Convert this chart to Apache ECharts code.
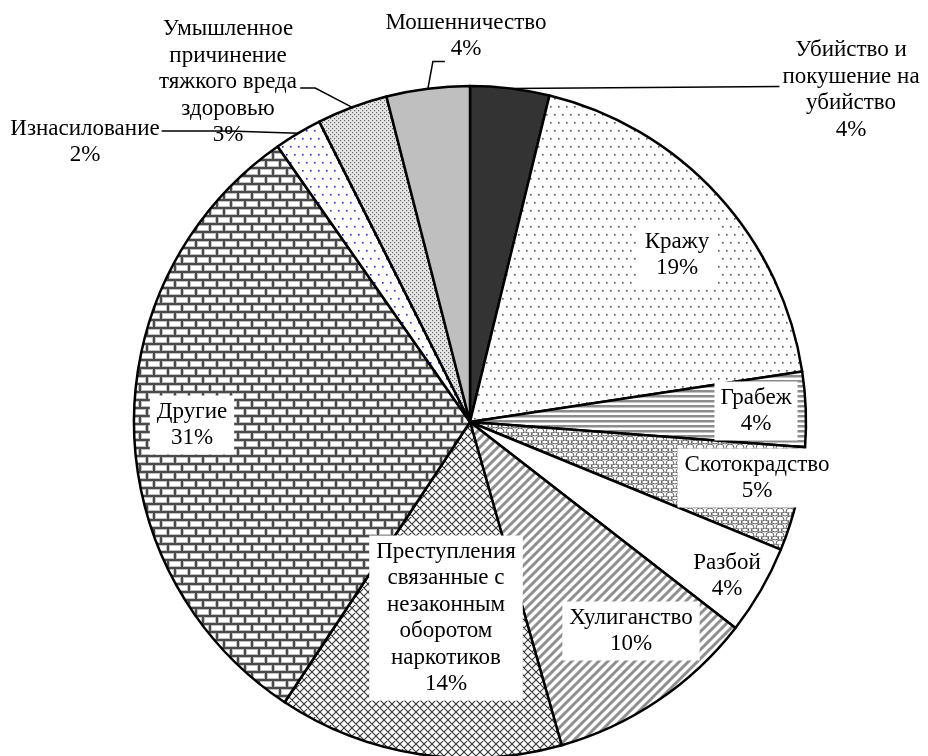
<!DOCTYPE html>
<html>
<head>
<meta charset="utf-8">
<script src="https://cdn.jsdelivr.net/npm/echarts@6/dist/echarts.min.js"></script>
<style>
html,body{margin:0;padding:0;background:#fff;}
#chart{width:928px;height:756px;}
</style>
</head>
<body>
<div id="chart"></div>
<script>
// ---- data ----
const categories = [
  'Убийство и\nпокушение на\nубийство',
  'Кражу',
  'Грабеж',
  'Скотокрадство',
  'Разбой',
  'Хулиганство',
  'Преступления\nсвязанные с\nнезаконным\nоборотом\nнаркотиков',
  'Другие',
  'Изнасилование',
  'Умышленное\nпричинение\nтяжкого вреда\nздоровью',
  'Мошенничество'
];
const values = [3.8, 18.8, 3.6, 5.0, 4.3, 10.1, 13.7, 31.0, 2.3, 3.4, 4.0];

// ---- styling / layout (not data) ----
const labelCenters = [
  [851, 90], [677, 255], [756, 411], [757, 478], [727, 576], [631, 631],
  [446, 618], [192, 425], [85, 142], [228, 82], [466, 36]
];
const labelPadding = [0, [3, 7], [3, 6], [3, 7], 0, [3, 7], [3, 7], [3, 7], 0, 0, 0];
const labelBoxed = [false, true, true, true, false, true, true, true, false, false, false];
const outsideIdx = [0, 8, 9, 10];

function tile(w, h, draw) {
  const c = document.createElement('canvas');
  c.width = w; c.height = h;
  const g = c.getContext('2d');
  draw(g, w, h);
  return c;
}
function dotTile(color, bg) {
  return tile(8, 16, g => {
    g.fillStyle = bg; g.fillRect(0, 0, 8, 16);
    g.fillStyle = color;
    g.fillRect(2, 2, 1.6, 1.6);
    g.fillRect(6, 10, 1.6, 1.6);
  });
}
const patDots = dotTile('#555', '#fff');
const patBlue = dotTile('#2a2ad0', '#fff');
const patDense = tile(4, 4, g => {
  g.fillStyle = '#e6e6e6'; g.fillRect(0, 0, 4, 4);
  g.fillStyle = '#6a6a6a';
  g.fillRect(0, 0, 1.2, 1.2); g.fillRect(2, 2, 1.2, 1.2);
});
const patHoriz = tile(4, 5, g => {
  g.fillStyle = '#fff'; g.fillRect(0, 0, 4, 5);
  g.fillStyle = '#8c8c8c'; g.fillRect(0, 0, 4, 2);
  g.fillStyle = '#c4c4c4'; g.fillRect(0, 2, 4, 1);
});
const patDiag = tile(9, 9, g => {
  g.fillStyle = '#fff'; g.fillRect(0, 0, 9, 9);
  g.strokeStyle = '#8f8f8f'; g.lineWidth = 3;
  g.beginPath();
  g.moveTo(-2, 2); g.lineTo(2, -2);
  g.moveTo(-1, 10); g.lineTo(10, -1);
  g.moveTo(7, 11); g.lineTo(11, 7);
  g.stroke();
});
const patCross = tile(8, 8, g => {
  g.fillStyle = '#fff'; g.fillRect(0, 0, 8, 8);
  g.strokeStyle = '#333'; g.lineWidth = 1.1;
  g.beginPath();
  g.moveTo(0, 0); g.lineTo(8, 8);
  g.moveTo(-1, 1); g.lineTo(1, -1);
  g.moveTo(0, 8); g.lineTo(8, 0);
  g.moveTo(7, 9); g.lineTo(9, 7);
  g.moveTo(-1, 7); g.lineTo(1, 9);
  g.moveTo(7, -1); g.lineTo(9, 1);
  g.stroke();
});
const patBrick = tile(14, 16, g => {
  g.fillStyle = '#4a4a4a'; g.fillRect(0, 0, 14, 16);
  function brick(x, y) {
    g.fillStyle = '#c0c0c0'; g.fillRect(x + 1, y + 1, 12, 6);
    g.fillStyle = '#fff'; g.fillRect(x + 2, y + 2, 10, 4);
  }
  brick(0, 0);
  brick(-7, 8); brick(7, 8);
});
const patWave = tile(10, 8, g => {
  g.fillStyle = '#fff'; g.fillRect(0, 0, 10, 8);
  g.strokeStyle = '#666'; g.lineWidth = 1;
  g.beginPath();
  g.arc(5, 4, 4, Math.PI, 2 * Math.PI);
  g.moveTo(-4, 8); g.arc(0, 8, 4, Math.PI, 2 * Math.PI);
  g.moveTo(6, 8); g.arc(10, 8, 4, Math.PI, 2 * Math.PI);
  g.moveTo(1, 0); g.arc(5, 0, 4, Math.PI, 2*Math.PI, true);
  g.stroke();
});

const fills = [
  '#333333',
  { image: patDots, repeat: 'repeat' },
  { image: patHoriz, repeat: 'repeat' },
  { image: patWave, repeat: 'repeat' },
  '#ffffff',
  { image: patDiag, repeat: 'repeat' },
  { image: patCross, repeat: 'repeat' },
  { image: patBrick, repeat: 'repeat' },
  { image: patBlue, repeat: 'repeat' },
  { image: patDense, repeat: 'repeat' },
  '#bfbfbf'
];

const pieData = categories.map((name, i) => {
  const outside = outsideIdx.indexOf(i) >= 0;
  return {
    name: name,
    value: values[i],
    itemStyle: { color: fills[i] },
    label: {
      position: outside ? 'outside' : 'inside',
      backgroundColor: labelBoxed[i] ? '#fff' : 'transparent',
      padding: labelPadding[i]
    },
    labelLine: { show: outside }
  };
});

const chart = echarts.init(document.getElementById('chart'), null, { renderer: 'canvas' });
chart.setOption({
  backgroundColor: '#fff',
  animation: false,
  series: [{
    type: 'pie',
    center: [470, 422],
    radius: 336,
    startAngle: 90,
    clockwise: true,
    avoidLabelOverlap: false,
    data: pieData,
    itemStyle: { borderColor: '#000', borderWidth: 2.5 },
    emphasis: { disabled: true },
    label: {
      show: true,
      formatter: p => p.name + '\n' + Math.round(p.percent) + '%',
      fontFamily: '"Liberation Serif", "Times New Roman", serif',
      fontSize: 23,
      lineHeight: 26.5,
      color: '#000',
      align: 'center'
    },
    labelLine: {
      show: true,
      length: 10,
      length2: 10,
      lineStyle: { color: '#000', width: 1.5 }
    },
    labelLayout: function (p) {
      const i = p.dataIndex;
      const c = labelCenters[i];
      const w = p.labelRect.width, h = p.labelRect.height;
      const res = { x: c[0], y: c[1], align: 'center', verticalAlign: 'middle' };
      const pts = p.labelLinePoints;
      if (pts && outsideIdx.indexOf(i) >= 0) {
        const a = pts[0];
        const left = c[0] - w / 2, bottom = c[1] + h / 2, right = c[0] + w / 2;
        if (i === 0) {
          res.labelLinePoints = [a, [(a[0] + left) / 2, a[1] - 1], [left - 3, a[1] - 2]];
        } else if (i === 10) {
          res.labelLinePoints = [a, [a[0] + 5, bottom - 1], [a[0] + 17, bottom - 1]];
        } else if (i === 9) {
          res.labelLinePoints = [a, [a[0] - 37, c[1] + 6], [a[0] - 52, c[1] + 6]];
        } else if (i === 8) {
          res.labelLinePoints = [a, [(a[0] + right) / 2, c[1] - 11], [right + 2, c[1] - 11]];
        }
      }
      return res;
    }
  }]
});
</script>
</body>
</html>
